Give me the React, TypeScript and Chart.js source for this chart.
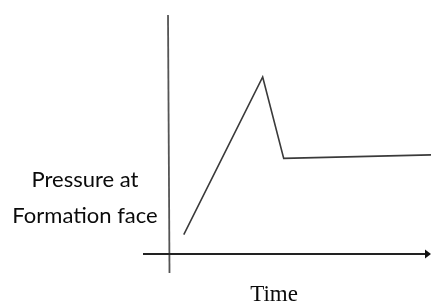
import React, { useEffect, useRef } from "react";
import { Chart, registerables } from "chart.js";

Chart.register(...registerables);

// Data (arbitrary units)
const time = [0.6, 3.6, 4.4, 10];
const pressure = [1.1, 10, 5.4, 5.6];
const xTitle = "Time";
const yTitle = ["Pressure at", "Formation face"];

const axesPlugin = {
  id: "sketchAxes",
  beforeDatasetsDraw(chart: any) {
    const { ctx, chartArea, scales } = chart;
    const x0 = scales.x.getPixelForValue(0);
    const y0 = scales.y.getPixelForValue(0);
    ctx.save();
    // vertical axis
    ctx.strokeStyle = "#555";
    ctx.lineWidth = 1.8;
    ctx.beginPath();
    ctx.moveTo(x0, chartArea.top - 62);
    ctx.lineTo(x0 + 1.5, y0 + 19);
    ctx.stroke();
    // horizontal axis with arrow
    ctx.strokeStyle = "#222";
    ctx.fillStyle = "#111";
    ctx.lineWidth = 1.8;
    const tip = chartArea.right;
    ctx.beginPath();
    ctx.moveTo(x0 - 25, y0);
    ctx.lineTo(tip - 5, y0);
    ctx.stroke();
    ctx.beginPath();
    ctx.moveTo(tip, y0);
    ctx.lineTo(tip - 6, y0 - 4.5);
    ctx.lineTo(tip - 6, y0 + 4.5);
    ctx.closePath();
    ctx.fill();
    // titles
    ctx.fillStyle = "#0a0a0a";
    ctx.textAlign = "center";
    ctx.textBaseline = "alphabetic";
    ctx.font = "22px Lato, 'Liberation Sans', sans-serif";
    ctx.fillText(yTitle[0], x0 - 83, y0 - 67);
    ctx.fillText(yTitle[1], x0 - 83, y0 - 31);
    ctx.font = "23px 'Liberation Serif', 'DejaVu Serif', serif";
    ctx.fillText(xTitle, x0 + 106, y0 + 47);
    ctx.restore();
  },
};

export default function App() {
  const ref = useRef<HTMLCanvasElement | null>(null);
  useEffect(() => {
    if (!ref.current) return;
    const chart = new Chart(ref.current, {
      type: "line",
      data: {
        datasets: [
          {
            data: time.map((t, i) => ({ x: t, y: pressure[i] })),
            borderColor: "#3a3a3a",
            borderWidth: 1.6,
            pointRadius: 0,
            tension: 0,
            clip: false as any,
          },
        ],
      },
      options: {
        animation: false,
        responsive: false,
        devicePixelRatio: 1,
        layout: { padding: { left: 168, right: 0, top: 77, bottom: 50 } },
        scales: {
          x: { type: "linear", min: 0, max: 10, display: false },
          y: { type: "linear", min: 0, max: 10, display: false },
        },
        plugins: { legend: { display: false }, tooltip: { enabled: false } },
      },
      plugins: [axesPlugin],
    });
    return () => chart.destroy();
  }, []);
  return (
    <div style={{ position: "fixed", left: 0, top: 0, width: 431, height: 304, background: "#fff" }}>
      <canvas ref={ref} width={431} height={304} style={{ display: "block" }} />
    </div>
  );
}
